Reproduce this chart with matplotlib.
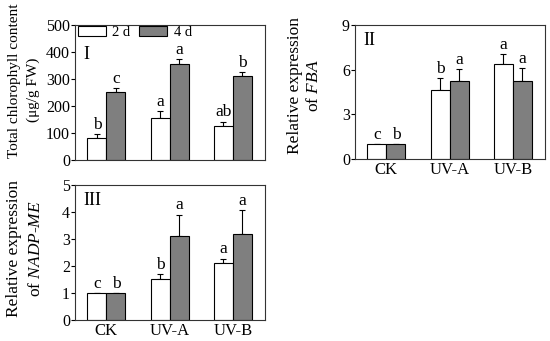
import numpy as np
import matplotlib
matplotlib.use("Agg")
import matplotlib.pyplot as plt

plt.rcParams['font.family'] = 'Liberation Serif'
plt.rcParams['mathtext.fontset'] = 'custom'
plt.rcParams['mathtext.it'] = 'Liberation Serif:italic'
plt.rcParams['mathtext.rm'] = 'Liberation Serif'

groups = ['CK', 'UV-A', 'UV-B']
series = ['2 d', '4 d']

chl_2d = [80, 157, 127]
chl_2d_err = [16, 25, 15]
chl_4d = [250, 355, 312]
chl_4d_err = [15, 20, 12]
chl_let_2d = ['b', 'a', 'ab']
chl_let_4d = ['c', 'a', 'b']

fba_2d = [1.0, 4.65, 6.4]
fba_2d_err = [0, 0.75, 0.62]
fba_4d = [1.0, 5.22, 5.22]
fba_4d_err = [0, 0.8, 0.9]
fba_let_2d = ['c', 'b', 'a']
fba_let_4d = ['b', 'a', 'a']

me_2d = [1.0, 1.5, 2.1]
me_2d_err = [0, 0.18, 0.17]
me_4d = [1.0, 3.12, 3.18]
me_4d_err = [0, 0.78, 0.88]
me_let_2d = ['c', 'b', 'a']
me_let_4d = ['b', 'a', 'a']

gray = '#7f7f7f'
W = 0.3
fig = plt.figure(figsize=(5.5, 3.41), dpi=100)


def panel(rect, d2, e2, d4, e4, l2, l4, ymax, yticks, tag, tagy, xlabels):
    ax = fig.add_axes(rect)
    x = np.arange(len(groups))
    pad = ymax * 0.008
    for off, vals, errs, lets, col, lab in [(-W / 2, d2, e2, l2, 'white', series[0]),
                                             (W / 2, d4, e4, l4, gray, series[1])]:
        ax.bar(x + off, vals, W, color=col, edgecolor='black', linewidth=0.8, label=lab, zorder=2)
        ax.errorbar(x + off, vals, yerr=[np.zeros(3), errs], fmt='none', ecolor='black',
                    elinewidth=0.8, capsize=2, capthick=0.8, zorder=1)
        for xi, v, e, t in zip(x + off, vals, errs, lets):
            ax.text(xi, v + e + pad, t, ha='center', va='bottom', fontsize=12.5)
    ax.set_xlim(-0.5, 2.5)
    ax.set_ylim(0, ymax)
    ax.set_yticks(yticks)
    ax.tick_params(axis='y', direction='out', length=3, width=0.8, labelsize=11.5, pad=0.5)
    ax.tick_params(axis='x', length=0, labelsize=12, pad=2)
    ax.set_xticks(x)
    ax.set_xticklabels(xlabels)
    for s in ax.spines.values():
        s.set_linewidth(0.8)
        s.set_color('#333333')
    ax.text(0.045, tagy, tag, transform=ax.transAxes, ha='left', va='top', fontsize=13)
    return ax


ax1 = panel([0.136, 0.531, 0.345, 0.396], chl_2d, chl_2d_err, chl_4d, chl_4d_err,
            chl_let_2d, chl_let_4d, 500, [0, 100, 200, 300, 400, 500], 'I', 0.84,
            ['', '', ''])
ax1.legend(loc='upper left', ncol=2, frameon=False, fontsize=10.5, handlelength=1.92,
           handleheight=0.68, columnspacing=0.6, handletextpad=0.45,
           borderpad=0, borderaxespad=0, bbox_to_anchor=(0.016, 0.99))

panel([0.645, 0.534, 0.345, 0.393], fba_2d, fba_2d_err, fba_4d, fba_4d_err,
      fba_let_2d, fba_let_4d, 9, [0, 3, 6, 9], 'II', 0.95, groups)

panel([0.136, 0.062, 0.345, 0.396], me_2d, me_2d_err, me_4d, me_4d_err,
      me_let_2d, me_let_4d, 5, [0, 1, 2, 3, 4, 5], 'III', 0.95, groups)

# y-axis titles
fig.text(0.027, 0.762, 'Total chlorophyll content', rotation=90, ha='center', va='center', fontsize=11)
fig.text(0.060, 0.736, '(μg/g FW)', rotation=90, ha='center', va='center', fontsize=11)
fig.text(0.536, 0.748, 'Relative expression', rotation=90, ha='center', va='center', fontsize=12.5)
fig.text(0.571, 0.748, 'of $\\mathit{FBA}$', rotation=90, ha='center', va='center', fontsize=12.5)
fig.text(0.026, 0.27, 'Relative expression', rotation=90, ha='center', va='center', fontsize=12.5)
fig.text(0.065, 0.27, 'of $\\mathit{NADP}$-$\\mathit{ME}$', rotation=90, ha='center', va='center',
         fontsize=12.5)

plt.savefig('out.png', dpi=100)
